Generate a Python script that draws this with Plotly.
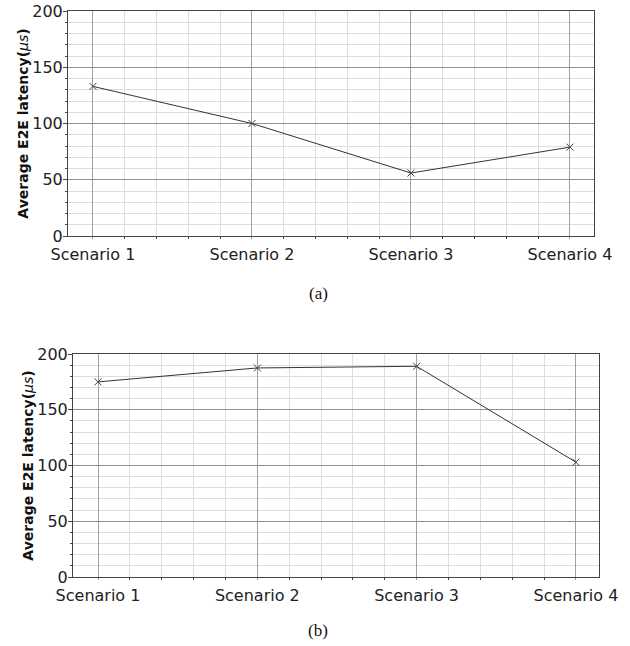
import plotly.graph_objects as go

categories = ["Scenario 1", "Scenario 2", "Scenario 3", "Scenario 4"]
latency_a = [133, 100, 56, 79]
latency_b = [175, 187.5, 189, 103]
y_ticks = [0, 50, 100, 150, 200]
captions = ["(a)", "(b)"]

W, H = 630, 646
fig = go.Figure()

xpos = list(range(len(categories)))

def px2x(p):
    return p / W

def px2y(p):
    return 1 - p / H

panels = [
    dict(vals=latency_a, xd=[px2x(68), px2x(594)], yd=[px2y(236), px2y(11)],
         xr=[-0.157, 3.151], cap_y=px2y(294)),
    dict(vals=latency_b, xd=[px2x(73), px2x(599)], yd=[px2y(577), px2y(354)],
         xr=[-0.157, 3.145], cap_y=px2y(630)),
]

title_text = "<b>Average E2E latency(</b><i>μs</i><b>)</b>"

for i, p in enumerate(panels):
    xa = "x" if i == 0 else "x2"
    ya = "y" if i == 0 else "y2"
    fig.add_trace(go.Scatter(
        x=xpos, y=p["vals"], xaxis=xa, yaxis=ya, mode="lines+markers",
        line=dict(color="#333333", width=1),
        marker=dict(symbol="x-thin", size=7, line=dict(color="#444444", width=1)),
        showlegend=False, hoverinfo="skip",
    ))
    xkey = "xaxis" if i == 0 else "xaxis2"
    ykey = "yaxis" if i == 0 else "yaxis2"
    fig.update_layout(**{
        xkey: dict(
            domain=p["xd"], anchor=ya, range=p["xr"], automargin=False,
            tickmode="array", tickvals=xpos, ticktext=categories,
            showgrid=True, gridcolor="#a0a0a0", gridwidth=1,
            showline=True, linecolor="#444444", linewidth=1, mirror=True,
            ticks="outside", ticklen=2, tickcolor="#999999",
            ticklabelstandoff=2,
            tickfont=dict(family="DejaVu Sans", size=16, color="#222222"),
            minor=dict(tickmode="linear", tick0=0, dtick=0.2, showgrid=True,
                       gridcolor="#dddddd", gridwidth=1, ticks="outside",
                       ticklen=2, tickcolor="#444444"),
            zeroline=False, fixedrange=True,
        ),
        ykey: dict(
            domain=p["yd"], anchor=xa, range=[0, 200], automargin=False,
            tickmode="array", tickvals=y_ticks,
            showgrid=True, gridcolor="#909090", gridwidth=1,
            showline=True, linecolor="#444444", linewidth=1, mirror=True,
            ticks="outside", ticklen=4, tickcolor="#444444",
            ticklabelstandoff=-3,
            tickfont=dict(family="DejaVu Sans", size=16, color="#222222"),
            minor=dict(tickmode="linear", tick0=0, dtick=10, showgrid=True,
                       gridcolor="#dddddd", gridwidth=1, ticks="outside",
                       ticklen=2, tickcolor="#444444"),
            title=dict(text=title_text, standoff=0,
                       font=dict(family="DejaVu Sans", size=14, color="#111111")),
            zeroline=False, fixedrange=True,
        ),
    })
    fig.add_annotation(
        text=captions[i], xref="paper", yref="paper", x=px2x(318), y=p["cap_y"],
        xanchor="center", yanchor="middle", showarrow=False,
        font=dict(family="Liberation Serif", size=17, color="#111111"),
    )

fig.update_layout(
    width=W, height=H, margin=dict(l=0, r=0, t=0, b=0),
    plot_bgcolor="white", paper_bgcolor="white",
)

fig.write_html("out.html", config={"displayModeBar": False},
               post_script="document.body.style.margin='0px';document.body.style.overflow='hidden';")
